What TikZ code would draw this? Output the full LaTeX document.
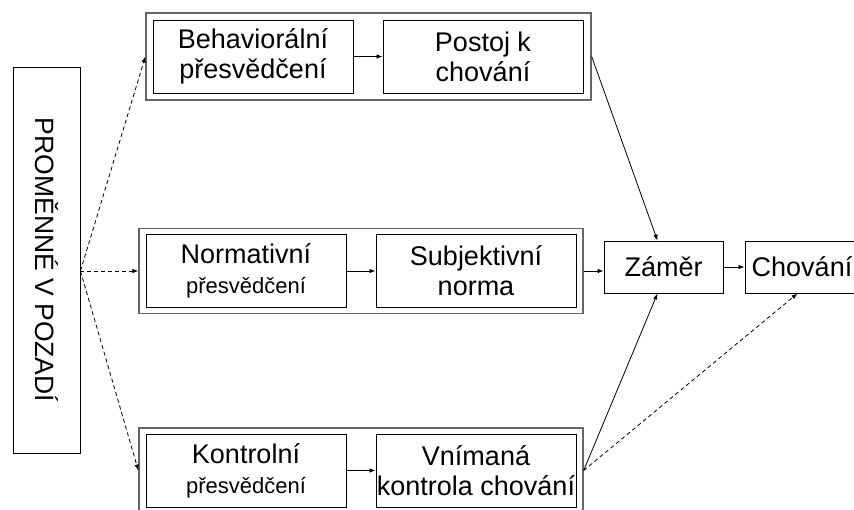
\documentclass[tikz,border=0pt]{standalone}
\usepackage{fontspec}
\setmainfont{Liberation Sans}
\usetikzlibrary{arrows.meta}
\begin{document}
\begin{tikzpicture}[x=1pt,y=-1pt,
  inbox/.style={draw=black,line width=0.9pt,inner sep=0pt,align=center,
    font=\fontsize{27}{30}\selectfont,minimum width=200pt,minimum height=73pt},
  outbox/.style={draw=black!60,line width=1.3pt,inner sep=0pt},
  smallbox/.style={draw=black,line width=0.9pt,inner sep=0pt,align=center,
    font=\fontsize{27}{30}\selectfont,minimum height=52pt},
  arr/.style={line width=0.8pt,-{Latex[length=6pt,width=4.5pt]}},
  darr/.style={arr,dash pattern=on 4pt off 3pt}]
\useasboundingbox (0,0) rectangle (854,509);
\clip (0,0) rectangle (854,509);
% left box
\node[draw=black,line width=0.9pt,minimum width=67pt,minimum height=386pt,inner sep=0pt] (pv) at (46.5,260) {};
\node[rotate=-90,font=\fontsize{26.5}{30}\selectfont,inner sep=0pt] (pvt) at (46.5,260) {PROMĚNNÉ V POZADÍ};
% top row
\node[outbox,minimum width=445pt,minimum height=87pt] (topout) at (368.5,56.5) {};
\node[inbox] (beh) at (253,56.5) {Behaviorální\\přesvědčení};
\node[inbox] (post) at (483,56.5) {Postoj k\\chování};
% middle row
\node[outbox,minimum width=444pt,minimum height=85pt] (midout) at (361,271) {};
\node[inbox] (norm) at (246,271) {Normativní\\{\fontsize{22}{28}\selectfont přesvědčení}};
\node[inbox] (subj) at (476,271) {Subjektivní\\norma};
% bottom row
\node[outbox,minimum width=444pt,minimum height=85pt] (botout) at (361,470.5) {};
\node[inbox] (kont) at (246,470.5) {Kontrolní\\{\fontsize{22}{28}\selectfont přesvědčení}};
\node[inbox] (vnim) at (476,470.5) {Vnímaná\\kontrola chování};
% right
\node[smallbox,minimum width=119pt] (zamer) at (663.5,267) {Záměr};
\node[smallbox,minimum width=113pt] (chov) at (801.5,267) {\hspace*{1pt}Chování};
% connectors
\coordinate (src) at (pv.east |- midout.west);
\draw[darr] (src) -- (topout.west);
\draw[darr] (src) -- (midout.west);
\draw[darr] (src) -- (botout.west);
\draw[arr] (beh) -- (post);
\draw[arr] (norm) -- (subj);
\draw[arr] (kont) -- (vnim);
\draw[arr] (topout.east) -- ([xshift=-6pt]zamer.north);
\draw[arr] (midout.east) -- (midout.east -| zamer.west);
\draw[arr] (botout.east) -- ([xshift=-6pt]zamer.south);
\draw[darr] (botout.east) -- ([xshift=-4pt]chov.south);
\draw[arr] (zamer) -- (chov);
\end{tikzpicture}
\end{document}
